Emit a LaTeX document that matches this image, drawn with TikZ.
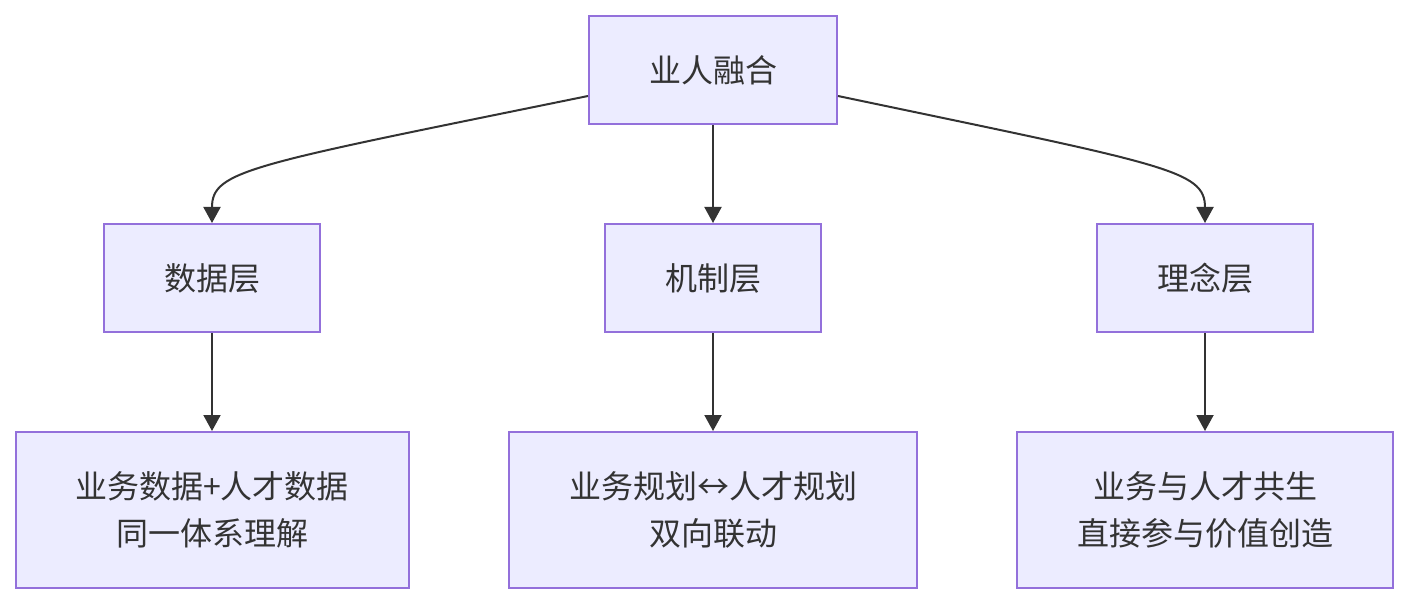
\documentclass[tikz,border=0pt]{standalone}
\usepackage{fontspec}
\setmainfont{Noto Sans CJK SC}
\usetikzlibrary{arrows.meta,calc}
\definecolor{boxfill}{HTML}{ECECFF}
\definecolor{boxline}{HTML}{9370DB}
\definecolor{ink}{HTML}{333333}
\begin{document}
\begin{tikzpicture}[x=1pt,y=-1pt,
  box/.style={draw=boxline,fill=boxfill,line width=2pt,text=ink,inner sep=0pt,
    font=\fontsize{32}{47}\selectfont,align=center},
  conn/.style={draw=ink,line width=2pt,-{Triangle[length=16pt,width=17pt]}}]
\useasboundingbox (0,0) rectangle (1408,604);
\node[box,minimum width=248pt,minimum height=108pt] (top) at (713,70) {业人融合};
\node[box,minimum width=216pt,minimum height=108pt] (d) at (212,278) {数据层};
\node[box,minimum width=216pt,minimum height=108pt] (m) at (713,278) {机制层};
\node[box,minimum width=216pt,minimum height=108pt] (l) at (1205,278) {理念层};
\node[box,minimum width=393pt,minimum height=156pt] (d2) at (212,510) {业务数据+人才数据\\同一体系理解};
\node[box,minimum width=408pt,minimum height=156pt] (m2) at (713,510) {业务规划↔人才规划\\双向联动};
\node[box,minimum width=376pt,minimum height=156pt] (l2) at (1205,510) {业务与人才共生\\直接参与价值创造};
\draw[conn] ($(top.west)+(0,26)$) .. controls (250,165) and (212,170) .. (d.north);
\draw[conn] ($(top.east)+(0,26)$) .. controls (1167,165) and (1205,170) .. (l.north);
\draw[conn] (top.south) -- (m.north);
\draw[conn] (d.south) -- (d2.north);
\draw[conn] (m.south) -- (m2.north);
\draw[conn] (l.south) -- (l2.north);
\end{tikzpicture}
\end{document}
